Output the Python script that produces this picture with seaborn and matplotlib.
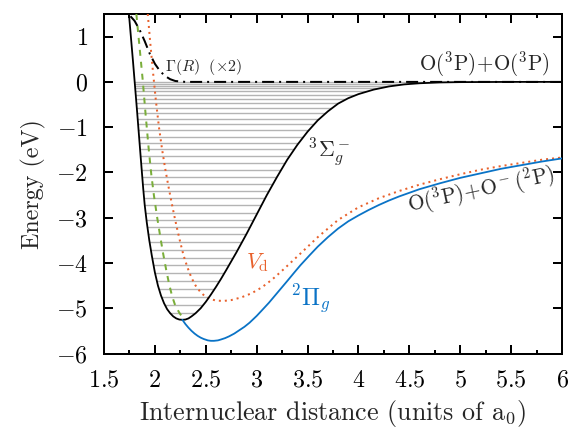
import numpy as np
import pandas as pd
import matplotlib
matplotlib.use("Agg")
import matplotlib.pyplot as plt
from matplotlib.patches import Polygon
import seaborn as sns

# ---- data ----
R_sigma = [1.745, 1.785, 1.825, 1.86, 1.885, 1.90, 1.92, 1.945, 1.97, 2.00, 2.03, 2.06, 2.09,
           2.12, 2.15, 2.18, 2.21, 2.24, 2.27, 2.30, 2.33, 2.36, 2.40, 2.45, 2.50, 2.55, 2.60,
           2.65, 2.70, 2.80, 2.90, 3.00, 3.10, 3.20, 3.30, 3.40, 3.50, 3.60, 3.70, 3.80, 3.90,
           4.00, 4.15, 4.30, 4.45, 4.60, 4.80, 5.00, 5.50, 6.00]
E_sigma = [1.5, 0.45, -0.65, -1.65, -2.35, -2.72, -3.10, -3.50, -3.84, -4.21, -4.50, -4.72, -4.89,
           -5.02, -5.11, -5.18, -5.225, -5.25, -5.255, -5.25, -5.225, -5.18, -5.11, -5.00, -4.86, -4.70, -4.53,
           -4.35, -4.16, -3.77, -3.36, -2.93, -2.50, -2.10, -1.72, -1.39, -1.10, -0.85, -0.65, -0.48, -0.36,
           -0.27, -0.17, -0.10, -0.055, -0.03, -0.012, -0.005, 0.0, 0.0]

R_pi = [2.27, 2.30, 2.33, 2.36, 2.39, 2.42, 2.45, 2.48, 2.52, 2.55, 2.58, 2.62, 2.65, 2.69, 2.73,
        2.78, 2.82, 2.88, 2.93, 3.00, 3.05, 3.12, 3.18, 3.24, 3.30, 3.37, 3.43, 3.52, 3.60, 3.70,
        3.80, 3.90, 4.00, 4.10, 4.20, 4.30, 4.40, 4.50, 4.60, 4.80, 5.00, 5.20, 5.40, 5.60, 5.80, 6.00]
E_pi = [-5.255, -5.35, -5.43, -5.50, -5.56, -5.61, -5.65, -5.68, -5.71, -5.72, -5.72, -5.71, -5.69,
        -5.66, -5.62, -5.56, -5.50, -5.41, -5.32, -5.17, -5.05, -4.88, -4.72, -4.56, -4.40, -4.21,
        -4.05, -3.83, -3.64, -3.43, -3.24, -3.08, -2.95, -2.83, -2.72, -2.62, -2.53, -2.45, -2.37,
        -2.24, -2.12, -2.02, -1.92, -1.84, -1.76, -1.69]

R_vd = [1.93, 1.955, 1.98, 2.01, 2.04, 2.07, 2.10, 2.13, 2.16, 2.19, 2.22, 2.25, 2.28, 2.32, 2.36,
        2.40, 2.45, 2.50, 2.55, 2.60, 2.67, 2.75, 2.85, 2.95, 3.05, 3.15, 3.25, 3.35, 3.45, 3.60,
        3.80, 4.00, 4.20, 4.40, 4.60, 4.80, 5.00, 5.20, 5.40, 5.60, 5.80, 6.00]
E_vd = [1.5, 0.85, 0.25, -0.42, -1.0, -1.48, -1.90, -2.27, -2.62, -2.95, -3.26, -3.55, -3.82, -4.10,
        -4.33, -4.50, -4.65, -4.75, -4.80, -4.83, -4.84, -4.82, -4.76, -4.67, -4.54, -4.37, -4.17,
        -3.96, -3.75, -3.43, -3.05, -2.77, -2.57, -2.41, -2.27, -2.15, -2.04, -1.94, -1.86, -1.79,
        -1.72, -1.67]

R_green = [1.818, 1.85, 1.88, 1.91, 1.94, 1.965, 1.99, 2.02, 2.05, 2.08, 2.11, 2.14, 2.17, 2.20, 2.24, 2.28]
E_green = [1.5, 0.75, 0.05, -0.75, -1.5, -2.05, -2.5, -2.96, -3.38, -3.78, -4.14, -4.47, -4.74, -4.94, -5.10, -5.23]

R_gamma = [1.76, 1.80, 1.85, 1.90, 1.95, 2.00, 2.05, 2.10, 2.15, 2.20, 2.30, 6.00]
E_gamma = [1.45, 1.35, 1.15, 0.90, 0.62, 0.40, 0.24, 0.13, 0.06, 0.02, 0.0, 0.0]

vib_levels = [-5.11, -4.93, -4.75, -4.58, -4.40, -4.22, -4.05, -3.88, -3.71, -3.54, -3.37,
              -3.21, -3.05, -2.89, -2.73, -2.57, -2.42, -2.26, -2.10, -1.94, -1.79, -1.64,
              -1.49, -1.35, -1.21, -1.07, -0.94, -0.81, -0.69, -0.58, -0.47, -0.38, -0.29,
              -0.21, -0.14, -0.08, -0.04, -0.01]

x_ticks = [1.5, 2, 2.5, 3, 3.5, 4, 4.5, 5, 5.5, 6]
y_ticks = [-6, -5, -4, -3, -2, -1, 0, 1]

# ---- styling ----
sns.set_style("ticks")
plt.rcParams.update({
    "font.family": ["cmr10", "DejaVu Serif"],
    "mathtext.fontset": "cm",
    "axes.formatter.use_mathtext": True,
    "font.size": 12,
    "axes.linewidth": 1.0,
    "xtick.direction": "in", "ytick.direction": "in",
    "xtick.top": True, "ytick.right": True,
    "xtick.major.size": 4.5, "ytick.major.size": 4.5,
    "xtick.minor.size": 2.2, "ytick.minor.size": 2.2,
    "xtick.major.width": 1.0, "ytick.major.width": 1.0,
    "xtick.minor.width": 1.0,
    "xtick.color": "black", "ytick.color": "black",
    "axes.edgecolor": "black",
})

BLUE = "#0a73c6"
ORANGE = "#e8612c"
GREEN = "#7aae3a"

fig = plt.figure(figsize=(4, 434 / 144), dpi=144)
ax = fig.add_axes([104 / 576, 1 - 353.5 / 434, 458 / 576, 339.5 / 434])

# vibrational levels, clipped to the well of the 3Sigma_g^- curve
clip_poly = Polygon(np.column_stack([R_sigma, E_sigma]), closed=True,
                    transform=ax.transData, facecolor="none", edgecolor="none")
ax.add_patch(clip_poly)
vl = ax.hlines(vib_levels, 1.5, 6.0, colors="#b4b4b4", linewidth=0.7, zorder=1)
vl.set_clip_path(clip_poly)

df_s = pd.DataFrame({"R": R_sigma, "E": E_sigma})
df_p = pd.DataFrame({"R": R_pi, "E": E_pi})
df_v = pd.DataFrame({"R": R_vd, "E": E_vd})
df_g = pd.DataFrame({"R": R_green, "E": E_green})
df_G = pd.DataFrame({"R": R_gamma, "E": E_gamma})

sns.lineplot(data=df_G, x="R", y="E", ax=ax, color="black", linewidth=1.0,
             linestyle=(0, (6, 2.5, 1, 2.5)), zorder=3)
sns.lineplot(data=df_g, x="R", y="E", ax=ax, color=GREEN, linewidth=1.0,
             linestyle=(0, (3, 3)), zorder=3)
sns.lineplot(data=df_v, x="R", y="E", ax=ax, color=ORANGE, linewidth=1.0,
             linestyle=(0, (1, 2)), zorder=3)
sns.lineplot(data=df_s, x="R", y="E", ax=ax, color="black", linewidth=0.9, zorder=4)
sns.lineplot(data=df_p, x="R", y="E", ax=ax, color=BLUE, linewidth=0.9, zorder=4)

ax.set_xlim(1.5, 6)
ax.set_ylim(-6, 1.5)
ax.set_xticks(x_ticks)
ax.set_xticklabels([f"${t:g}$" for t in x_ticks])
ax.set_yticks(y_ticks)
ax.set_yticklabels([f"${t:d}$" for t in y_ticks])
ax.xaxis.set_minor_locator(matplotlib.ticker.MultipleLocator(0.25))
ax.tick_params(which="both", direction="in", top=True, right=True, labelsize=12)
ax.tick_params(axis="x", pad=8)
ax.tick_params(axis="y", pad=8)

ax.set_xlabel(r"Internuclear distance (units of $\mathrm{a}_0$)", fontsize=13, labelpad=3)
ax.set_ylabel("Energy (eV)", fontsize=12, labelpad=5)

ax.text(2.1, 0.32, r"$\Gamma(R)\ \ (\times 2)$", fontsize=8, ha="left", va="center")
ax.text(5.88, 0.07, r"$\mathrm{O}(^3\mathrm{P})\!+\!\mathrm{O}(^3\mathrm{P})$", fontsize=10.5,
        ha="right", va="bottom")
ax.text(3.50, -1.55, r"$^3\Sigma_g^-$", fontsize=11, ha="left", va="center")
ax.text(2.90, -4.0, r"$V_\mathrm{d}$", fontsize=11, ha="left", va="center", color=ORANGE)
ax.text(3.33, -4.78, r"$^2\Pi_g$", fontsize=12, ha="left", va="center", color=BLUE)
ax.text(5.20, -2.38, r"$\mathrm{O}(^3\mathrm{P})\!+\!\mathrm{O}^-(^2\mathrm{P})$", fontsize=10.5,
        ha="center", va="center", rotation=12, rotation_mode="anchor")

fig.savefig("out.png", dpi=144)
